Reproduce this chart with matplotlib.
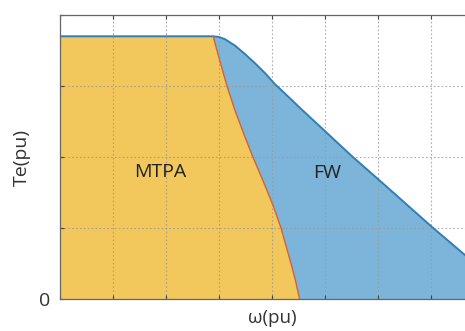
import numpy as np
import matplotlib
matplotlib.use("Agg")
import matplotlib.pyplot as plt

plt.rcParams['font.family'] = ['Open Sans', 'DejaVu Sans']

# MTPA / FW boundary (per-unit)
mtpa_w = [2.89, 3.01, 3.15, 3.30, 3.47, 3.64, 3.85, 4.03, 4.17, 4.34, 4.44, 4.52]
mtpa_te = [3.70, 3.37, 3.00, 2.66, 2.32, 2.00, 1.63, 1.30, 1.00, 0.55, 0.27, 0.0]

fw_w = [0.0, 2.89, 3.00, 3.11, 3.30, 3.49, 3.68, 3.87, 4.05, 4.25, 4.53, 5.51, 6.09, 7.01, 7.64, 8.0]
fw_te = [3.70, 3.70, 3.69, 3.66, 3.57, 3.45, 3.32, 3.18, 3.03, 2.89, 2.69, 2.01, 1.63, 1.02, 0.62, 0.40]

labels = ['MTPA', 'FW']
label_pos = [(1.89, 1.79), (5.04, 1.77)]

fig = plt.figure(figsize=(4.65, 3.31), dpi=100)
ax = fig.add_axes([60/465, 32/331, 424/465, 284/331])

# blue region under the FW envelope
ax.fill(fw_w + [8.0, 0.0], fw_te + [0.0, 0.0], color='#7db5da', lw=0, zorder=1)
# orange MTPA region on top
ax.fill([0.0] + mtpa_w + [0.0], [3.70] + mtpa_te + [0.0], color='#f2c75b', lw=0, zorder=2)
ax.plot(fw_w, fw_te, color='#2f7fb6', lw=1.4, zorder=3, solid_joinstyle='round')
ax.plot(mtpa_w, mtpa_te, color='#d9622b', lw=1.0, zorder=3, solid_joinstyle='round')

for txt, (x, y) in zip(labels, label_pos):
    ax.text(x, y, txt, ha='center', va='center', fontsize=14, color='#222222', zorder=4)

ax.set_xlim(0, 8)
ax.set_ylim(0, 4)
ax.set_xticks(np.arange(0, 9, 1))
ax.set_yticks(np.arange(0, 5, 1))
ax.set_xticklabels([])
ax.set_yticklabels(['0', '', '', '', ''])
ax.tick_params(direction='in', length=3, top=True, right=True, labelsize=14, pad=7,
               colors='#444444', labelcolor='#333333')
ax.grid(True, linestyle=(0, (1.5, 2)), color='#999999', lw=0.8, alpha=0.8, zorder=2.5)
ax.set_axisbelow(False)
for s in ax.spines.values():
    s.set_color('#666666')
    s.set_linewidth(0.9)
    s.set_zorder(5)

ax.set_ylabel('Te(pu)', fontsize=14, color='#333333', labelpad=6)
ax.set_xlabel('ω(pu)', fontsize=13.5, color='#333333', labelpad=0)

fig.savefig('out.png', dpi=100)
